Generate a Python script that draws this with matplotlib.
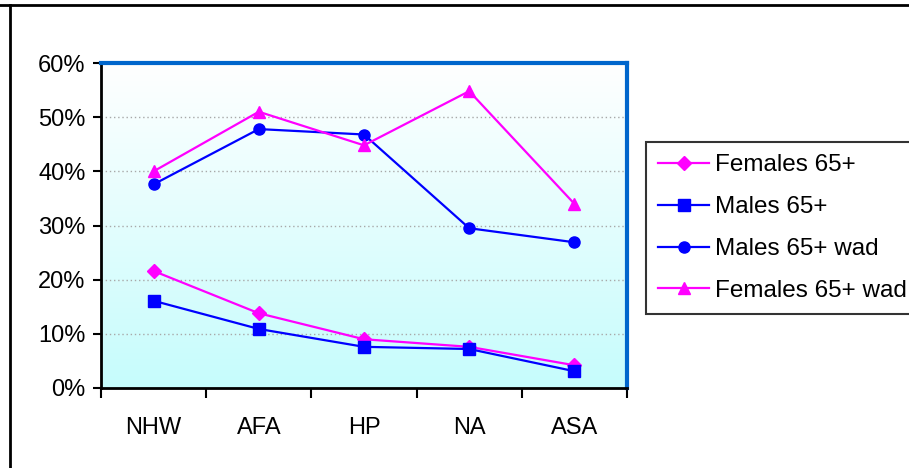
import numpy as np
import matplotlib
matplotlib.use("Agg")
import matplotlib.pyplot as plt
from matplotlib.lines import Line2D
from matplotlib.colors import LinearSegmentedColormap
from matplotlib.ticker import FuncFormatter

categories = ["NHW", "AFA", "HP", "NA", "ASA"]
females_65 = [21.6, 13.8, 9.0, 7.6, 4.2]
males_65 = [16.1, 10.9, 7.6, 7.2, 3.1]
males_65_wad = [37.6, 47.8, 46.8, 29.5, 26.9]
females_65_wad = [40.0, 51.0, 44.8, 54.8, 34.0]
series_labels = ["Females 65+", "Males 65+", "Males 65+ wad", "Females 65+ wad"]
y_ticks = [0, 10, 20, 30, 40, 50, 60]

plt.rcParams['font.family'] = ['Liberation Sans', 'DejaVu Sans']

fig = plt.figure(figsize=(9.09, 4.68), dpi=100)
ax = fig.add_axes([101/909, 1 - 388/468, (627-101)/909, (388-63)/468])

# gradient background
cmap = LinearSegmentedColormap.from_list("bg", ["#C6FCFC", "#FFFFFF"])
grad = np.linspace(0, 1, 256).reshape(-1, 1)
ax.imshow(grad, aspect='auto', cmap=cmap, origin='lower',
          extent=[0, 1, 0, 1], transform=ax.transAxes, zorder=0)

x = np.arange(len(categories))
ax.plot(x, females_65, color="#FF00FF", marker="D", markersize=7, lw=1.6,
        label=series_labels[0], zorder=3)
ax.plot(x, males_65, color="#0000FF", marker="s", markersize=8, lw=1.6,
        label=series_labels[1], zorder=3)
ax.plot(x, males_65_wad, color="#0000FF", marker="o", markersize=8, lw=1.6,
        label=series_labels[2], zorder=3)
ax.plot(x, females_65_wad, color="#FF00FF", marker="^", markersize=9, lw=1.6,
        label=series_labels[3], zorder=3)

ax.set_xlim(-0.5, len(categories) - 0.5)
ax.set_ylim(0, 60)
ax.set_yticks(y_ticks)
ax.yaxis.set_major_formatter(FuncFormatter(lambda v, p: f"{int(v)}%"))
for v in y_ticks[1:-1]:
    ax.axhline(v, color="#A8A8A8", lw=1.0, ls=(0, (1, 2)), zorder=1)

ax.set_xticks(x)
ax.set_xticklabels(categories)
ax.set_xticks(np.arange(len(categories) + 1) - 0.5, minor=True)
ax.tick_params(axis='x', which='major', length=0, pad=21, labelsize=17)
ax.tick_params(axis='x', which='minor', length=7, width=1.5, direction='out')
ax.tick_params(axis='y', which='major', length=6, width=1.5, direction='out',
               labelsize=17, pad=5)

for s in ['left', 'bottom']:
    ax.spines[s].set_color('black')
    ax.spines[s].set_linewidth(2)
for s in ['top', 'right']:
    ax.spines[s].set_color('#0066CC')
    ax.spines[s].set_linewidth(3)

leg = fig.legend(loc='upper left', bbox_to_anchor=(646/909, 1 - 142/468),
                 frameon=True, fancybox=False, edgecolor='black',
                 fontsize=17.5, handlelength=2.1, handletextpad=0.25,
                 labelspacing=0.82, borderpad=0.5, borderaxespad=0)
leg.get_frame().set_linewidth(1.5)

# outer frame lines (chart area border)
fig.add_artist(Line2D([0, 1], [1 - 5/468, 1 - 5/468], color='black', lw=2,
                      transform=fig.transFigure))
fig.add_artist(Line2D([10/909, 10/909], [0, 1 - 5/468], color='black', lw=2,
                      transform=fig.transFigure))

fig.savefig("out.png", dpi=100)
